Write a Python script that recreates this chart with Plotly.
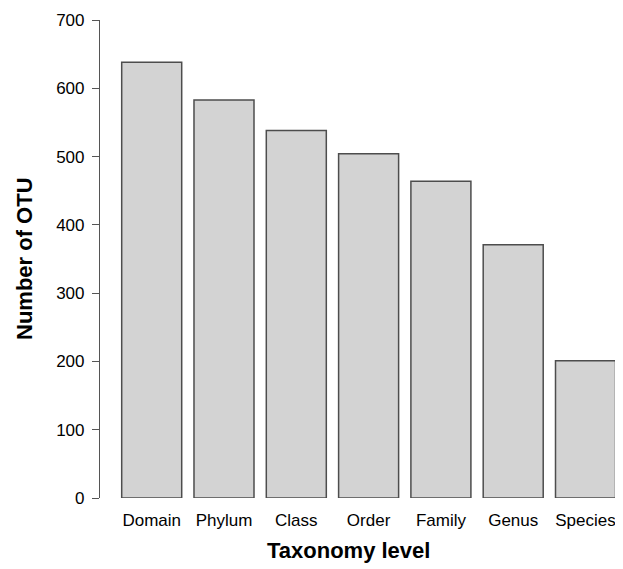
import plotly.graph_objects as go

categories = ["Domain", "Phylum", "Class", "Order", "Family", "Genus", "Species"]
otu_counts = [638, 583, 538, 504, 464, 371, 201]
y_ticks = [0, 100, 200, 300, 400, 500, 600, 700]

FONT = "Liberation Sans, Arial, sans-serif"
# page body has an 8px margin, so the figure is shrunk to fit the window
W, H = 615, 561
ml, mr, mt, mb = 92, 3, 12, 71
PW, PH = W - ml - mr, H - mt - mb

fig = go.Figure(go.Bar(
    x=list(range(len(categories))),
    y=otu_counts,
    width=0.83,
    marker=dict(color="#d3d3d3", line=dict(color="#4d4d4d", width=1.5)),
    hoverinfo="x+y",
))

fig.update_layout(
    width=W, height=H,
    margin=dict(l=ml, r=mr, t=mt, b=mb, pad=0),
    plot_bgcolor="white", paper_bgcolor="white",
    showlegend=False,
    font=dict(family=FONT, size=17, color="black"),
    xaxis=dict(
        range=[-0.715, 6.477],
        tickmode="array",
        tickvals=list(range(len(categories))),
        ticktext=categories,
        ticks="", showline=False, showgrid=False, zeroline=False,
        tickfont=dict(size=17, family=FONT, color="black"),
        ticklabelstandoff=10,
    ),
    yaxis=dict(
        range=[0, 700],
        tickmode="array",
        tickvals=y_ticks,
        ticks="outside", ticklen=7, tickcolor="#555555", tickwidth=1.2,
        showline=True, linecolor="#555555", linewidth=1.2,
        showgrid=False, zeroline=False,
        tickfont=dict(size=17, family=FONT, color="black"),
        ticklabelstandoff=4,
    ),
    annotations=[
        dict(text="<b>Taxonomy level</b>", xref="paper", yref="paper",
             x=0.477, y=-52 / PH, xanchor="center", yanchor="middle",
             showarrow=False, font=dict(size=22, family=FONT, color="black")),
        dict(text="<b>Number of OTU</b>", xref="paper", yref="paper",
             x=-76 / PW, y=0.5, xanchor="center", yanchor="middle",
             textangle=-90, showarrow=False,
             font=dict(size=22, family=FONT, color="black")),
    ],
)

fig.write_html("out.html")
